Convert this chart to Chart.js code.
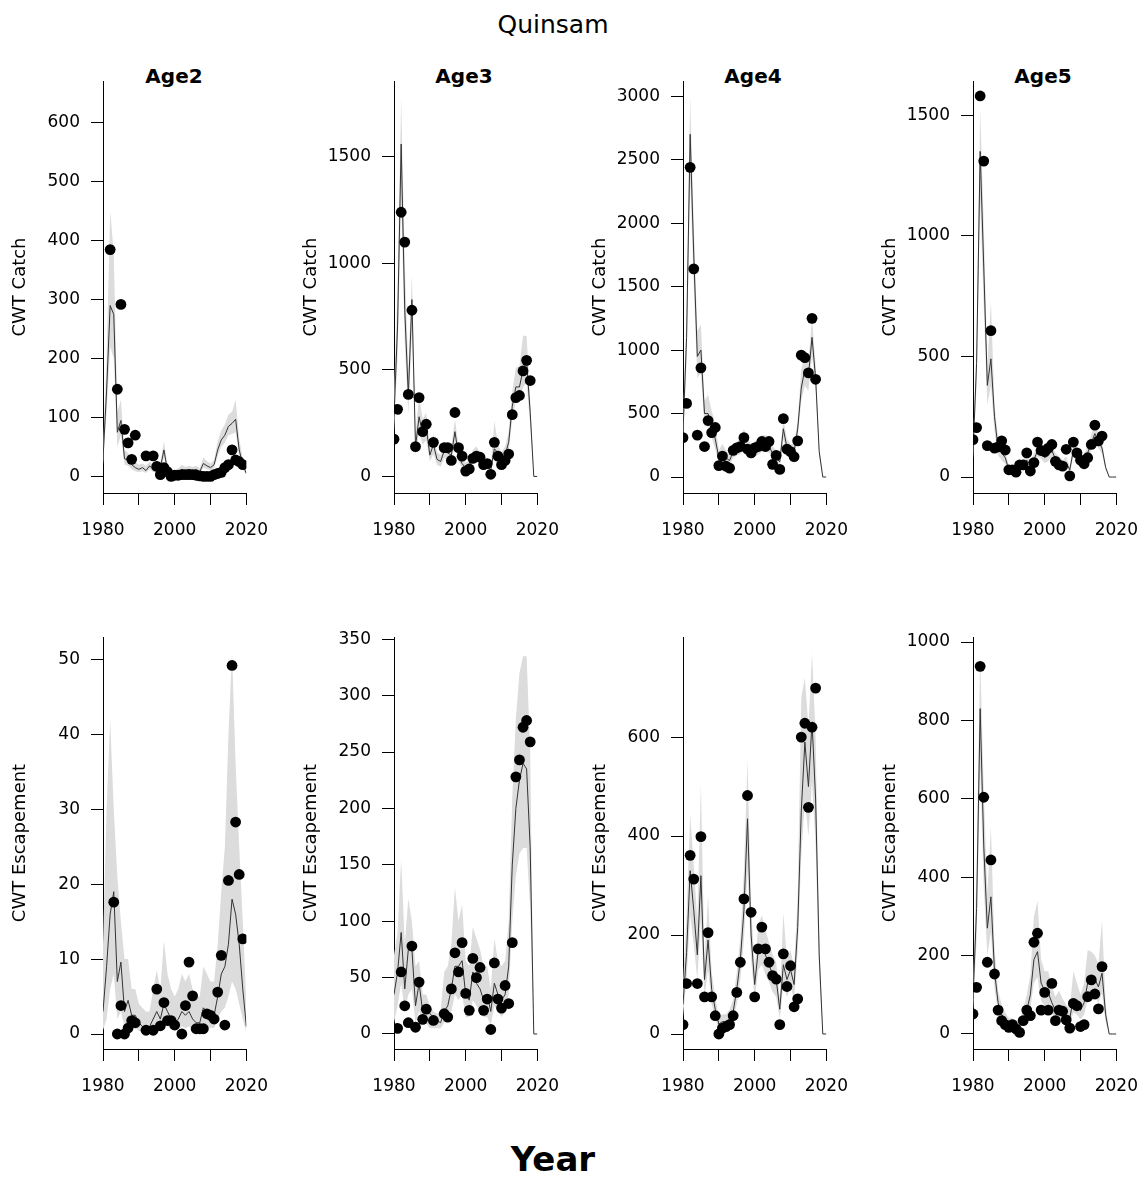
<!DOCTYPE html>
<html>
<head>
<meta charset="utf-8">
<script src="https://cdn.jsdelivr.net/npm/chart.js@4.4.1/dist/chart.umd.min.js"></script>
<style>
  body { margin: 0; background: #fff; }
  #page { position: relative; width: 1146px; height: 1179px; overflow: hidden; font-family: "DejaVu Sans", sans-serif; color: #000; }
  .lbl { position: absolute; transform: translate(-50%, -50%); white-space: nowrap; line-height: 1; }
  canvas { position: absolute; }
</style>
</head>
<body>
<div id="page">
  <div class="lbl" style="left:553px;top:24px;font-size:25px;">Quinsam</div>
  <div class="lbl" style="left:174px;top:76px;font-size:20px;font-weight:bold;">Age2</div>
  <div class="lbl" style="left:464px;top:76px;font-size:20px;font-weight:bold;">Age3</div>
  <div class="lbl" style="left:753px;top:76px;font-size:20px;font-weight:bold;">Age4</div>
  <div class="lbl" style="left:1043px;top:76px;font-size:20px;font-weight:bold;">Age5</div>
  <div class="lbl" style="left:553px;top:1159px;font-size:34px;font-weight:bold;">Year</div>
</div>
<script>
// years shared by every panel
const years = [1980, 1981, 1982, 1983, 1984, 1985, 1986, 1987, 1988, 1989,
  1990, 1991, 1992, 1993, 1994, 1995, 1996, 1997, 1998, 1999,
  2000, 2001, 2002, 2003, 2004, 2005, 2006, 2007, 2008, 2009,
  2010, 2011, 2012, 2013, 2014, 2015, 2016, 2017, 2018, 2019,
  2020];
const xTicks = [1980, 1990, 2000, 2010, 2020];
const xLabels = [1980, 2000, 2020];

// --- CWT catch ---
const age2CatchObs = [null, null, 385, null, 148, 292, 80, 57, 29, 70,
  null, null, 35, null, 35, 17, 3, 15, 8, 0,
  2, 2, 3, 3, 3, 3, 2, 1, 0, 0,
  0, 3, 5, 7, 15, 20, 45, 28, 25, 20,
  null];
const age2CatchMed = [30, 145, 290, 275, 75, 95, 30, 28, 20, 15,
  12, 15, 10, 18, 12, 20, 15, 45, 10, 5,
  5, 8, 12, 10, 12, 10, 12, 8, 22, 18,
  15, 20, 45, 62, 70, 85, 90, 97, 45, 20,
  5];
const age2CatchHi = [45, 200, 450, 380, 110, 130, 45, 40, 30, 25,
  20, 22, 18, 25, 20, 28, 22, 60, 18, 10,
  10, 14, 20, 16, 18, 16, 18, 14, 32, 26,
  22, 28, 60, 78, 88, 105, 110, 130, 65, 30,
  8];
const age2CatchLo = [20, 110, 220, 200, 50, 70, 20, 18, 12, 9,
  7, 9, 6, 12, 7, 13, 9, 32, 5, 2,
  2, 4, 7, 6, 7, 6, 7, 4, 15, 12,
  10, 14, 35, 50, 57, 70, 72, 75, 32, 12,
  2];

const age3CatchObs = [175, 315, 1240, 1100, 385, 780, 140, 370, 210, 245,
  null, 160, null, null, 135, 135, 75, 300, 135, 95,
  25, 35, 85, 95, 90, 55, 60, 10, 160, 95,
  55, 75, 105, 290, 370, 380, 495, 545, 450, null,
  null];
const age3CatchMed = [280, 710, 1560, 780, 380, 830, 140, 280, 200, 230,
  100, 150, 80, 70, 120, 110, 100, 210, 100, 60,
  40, 50, 90, 100, 80, 60, 50, 30, 130, 110,
  80, 100, 160, 330, 420, 420, 500, 540, 300, 0,
  0];
const age3CatchHi = [380, 900, 1780, 1000, 500, 950, 200, 380, 270, 300,
  140, 200, 115, 100, 160, 150, 140, 270, 140, 90,
  65, 75, 125, 140, 115, 90, 80, 50, 260, 150,
  115, 140, 210, 400, 510, 520, 660, 660, 360, 0,
  0];
const age3CatchLo = [210, 560, 1300, 620, 290, 680, 95, 210, 150, 170,
  70, 105, 55, 45, 85, 80, 70, 160, 70, 40,
  25, 32, 62, 70, 55, 40, 32, 18, 95, 78,
  55, 70, 120, 270, 350, 350, 420, 440, 240, 0,
  0];

const age4CatchObs = [310, 580, 2440, 1640, 330, 860, 240, 445, 350, 390,
  90, 165, 85, 70, 210, 230, 240, 310, 220, 190,
  230, 240, 280, 240, 280, 100, 170, 60, 460, 220,
  200, 160, 285, 960, 940, 820, 1250, 770, null, null,
  null];
const age4CatchMed = [350, 1100, 2700, 1750, 950, 1000, 500, 500, 400, 300,
  150, 200, 150, 130, 200, 220, 230, 270, 230, 200,
  210, 230, 260, 260, 250, 180, 150, 120, 380, 230,
  200, 200, 380, 700, 850, 800, 1100, 780, 200, 0,
  0];
const age4CatchHi = [450, 1300, 3000, 2000, 1150, 1200, 600, 650, 520, 420,
  210, 260, 210, 180, 260, 280, 300, 380, 300, 260,
  280, 300, 330, 330, 320, 240, 210, 170, 460, 300,
  260, 260, 450, 850, 950, 920, 1250, 880, 240, 0,
  0];
const age4CatchLo = [270, 900, 2350, 1500, 780, 820, 400, 400, 310, 220,
  100, 150, 100, 90, 150, 170, 180, 210, 170, 150,
  160, 175, 200, 200, 190, 130, 100, 80, 300, 170,
  150, 150, 310, 600, 720, 680, 960, 680, 160, 0,
  0];

const age5CatchObs = [155, 205, 1580, 1310, 130, 607, 120, 125, 150, 112,
  30, 30, 20, 50, 50, 100, 25, 60, 145, 110,
  105, 120, 135, 65, 50, 45, 115, 5, 145, 100,
  70, 55, 80, 135, 215, 150, 170, null, null, null,
  null];
const age5CatchMed = [100, 470, 1350, 870, 380, 490, 250, 120, 100, 80,
  30, 30, 35, 45, 50, 70, 50, 70, 110, 100,
  80, 90, 110, 75, 60, 50, 60, 30, 110, 90,
  60, 70, 100, 140, 180, 150, 120, 40, 0, 0,
  0];
const age5CatchHi = [130, 560, 1530, 1050, 460, 730, 300, 160, 140, 110,
  45, 45, 50, 65, 70, 95, 70, 95, 140, 130,
  110, 120, 140, 100, 85, 70, 85, 45, 140, 120,
  85, 95, 130, 175, 220, 185, 150, 50, 0, 0,
  0];
const age5CatchLo = [75, 380, 1150, 700, 300, 380, 190, 90, 70, 55,
  18, 18, 22, 30, 35, 50, 32, 50, 85, 75,
  58, 65, 85, 55, 42, 35, 42, 18, 85, 65,
  42, 50, 75, 110, 145, 120, 95, 30, 0, 0,
  0];

// --- CWT escapement ---
const age2EscObs = [null, null, null, 17.6, 0, 3.8, 0, 0.8, 1.8, 1.5,
  null, null, 0.5, null, 0.5, 6.0, 1.1, 4.2, 1.8, 1.8,
  1.2, null, 0, 3.8, 9.6, 5.1, 0.7, 0.7, 0.7, 2.7,
  2.5, 2.0, 5.6, 10.5, 1.2, 20.5, 49.2, 28.3, 21.3, 12.7,
  null];
const age2EscMed = [3, 9, 16, 19, 7, 9.6, 3, 4.5, 2.5, 2.5,
  1.5, 1, 1, 1, 2, 3, 2, 4, 3, 2,
  1.5, 2, 3, 2.5, 3, 2, 1.5, 1.5, 3.5, 3,
  2.5, 2.5, 5, 8, 9, 12, 18, 16, 12, 6,
  1];
const age2EscHi = [12, 30, 42, 30, 21, 15, 10, 10, 6, 6,
  4, 3.5, 3, 3, 6, 8.5, 6, 12.5, 8, 6,
  5, 6, 8, 7, 8, 6, 5, 5, 9, 8,
  7, 7, 12, 19, 25, 40, 51, 36, 25, 15,
  4];
const age2EscLo = [0.5, 2, 6, 8, 2, 3, 1, 1.5, 0.8, 0.8,
  0.4, 0.3, 0.3, 0.3, 0.6, 1, 0.6, 1.5, 1, 0.6,
  0.5, 0.6, 1, 0.8, 1, 0.6, 0.5, 0.5, 1.2, 1,
  0.8, 0.8, 2, 3, 3.5, 5, 7, 6, 4, 2,
  0.2];

const age3EscObs = [null, 5, 55, 25, 10, 78, 6, 46, 13, 22,
  null, 12, null, null, 18, 15, 40, 72, 55, 81,
  36, 21, 67, 50, 59, 21, 31, 4, 63, 31,
  23, 43, 27, 81, 228, 243, 272, 278, 259, null,
  null];
const age3EscMed = [35, 55, 90, 40, 75, 75, 25, 45, 20, 25,
  18, 15, 12, 10, 20, 25, 40, 60, 60, 65,
  35, 30, 55, 45, 40, 30, 35, 20, 45, 35,
  30, 35, 60, 150, 200, 225, 240, 235, 165, 0,
  0];
const age3EscHi = [70, 90, 155, 80, 120, 100, 60, 65, 35, 35,
  25, 20, 18, 20, 55, 60, 80, 130, 100, 115,
  65, 60, 95, 85, 75, 60, 60, 40, 85, 65,
  60, 65, 100, 210, 280, 320, 335, 335, 250, 0,
  0];
const age3EscLo = [10, 25, 45, 20, 35, 40, 10, 20, 8, 10,
  5, 5, 5, 5, 10, 15, 20, 35, 30, 35,
  15, 15, 30, 25, 20, 15, 15, 8, 25, 20,
  15, 20, 35, 100, 140, 160, 165, 165, 110, 0,
  0];

const age4EscObs = [19, 102, 361, 313, 102, 399, 75, 205, 75, 37,
  0, 12, 15, 19, 37, 84, 145, 273, 482, 246,
  75, 172, 216, 172, 145, 118, 111, 19, 162, 96,
  138, 55, 71, 600, 628, 458, 620, 699, null, null,
  null];
const age4EscMed = [60, 165, 330, 250, 160, 320, 110, 190, 90, 50,
  20, 25, 25, 30, 45, 90, 150, 250, 435, 200,
  100, 170, 180, 160, 140, 120, 110, 50, 140, 110,
  130, 100, 215, 450, 590, 500, 630, 475, 160, 0,
  0];
const age4EscHi = [100, 240, 445, 340, 230, 505, 150, 280, 125, 75,
  35, 40, 40, 50, 70, 125, 195, 330, 555, 260,
  135, 220, 240, 210, 185, 160, 145, 75, 245, 150,
  170, 135, 280, 680, 720, 620, 770, 600, 200, 0,
  0];
const age4EscLo = [35, 110, 240, 180, 110, 230, 75, 130, 60, 30,
  10, 15, 15, 18, 28, 60, 110, 190, 330, 150,
  70, 130, 140, 120, 105, 85, 75, 30, 100, 75,
  95, 70, 165, 360, 470, 400, 510, 380, 120, 0,
  0];

const age5EscObs = [51, 119, 938, 604, 183, 444, 153, 61, 34, 24,
  17, 24, 13, 4, 34, 61, 47, 234, 257, 61,
  106, 61, 129, 34, 61, 58, 36, 15, 78, 72,
  19, 24, 95, 138, 102, 64, 172, null, null, null,
  null];
const age5EscMed = [90, 320, 830, 480, 270, 350, 160, 80, 50, 35,
  25, 25, 20, 20, 40, 60, 100, 190, 210, 130,
  110, 105, 80, 60, 65, 55, 45, 40, 90, 80,
  60, 80, 130, 150, 140, 120, 155, 50, 0, 0,
  0];
const age5EscHi = [120, 420, 970, 620, 360, 530, 220, 110, 75, 55,
  40, 40, 35, 35, 65, 100, 150, 300, 340, 190,
  160, 160, 120, 95, 110, 90, 75, 65, 160, 130,
  100, 130, 215, 210, 200, 180, 290, 80, 0, 0,
  0];
const age5EscLo = [60, 240, 680, 370, 200, 260, 115, 55, 32, 22,
  15, 15, 12, 12, 25, 38, 65, 130, 145, 85,
  70, 68, 52, 38, 42, 35, 28, 25, 55, 50,
  37, 50, 85, 100, 95, 80, 105, 30, 0, 0,
  0];

// y tick labels per panel
const age2CatchTicks = [0, 100, 200, 300, 400, 500, 600];
const age3CatchTicks = [0, 500, 1000, 1500];
const age4CatchTicks = [0, 500, 1000, 1500, 2000, 2500, 3000];
const age5CatchTicks = [0, 500, 1000, 1500];
const age2EscTicks = [0, 10, 20, 30, 40, 50];
const age3EscTicks = [0, 50, 100, 150, 200, 250, 300, 350];
const age4EscTicks = [0, 200, 400, 600];
const age5EscTicks = [0, 200, 400, 600, 800, 1000];

const panels = [
  { obs: age2CatchObs, med: age2CatchMed, lo: age2CatchLo, hi: age2CatchHi, ticks: age2CatchTicks, yMin: -28.1, yMax: 671.2, title: 'CWT Catch' },
  { obs: age3CatchObs, med: age3CatchMed, lo: age3CatchLo, hi: age3CatchHi, ticks: age3CatchTicks, yMin: -77.8, yMax: 1856, title: 'CWT Catch' },
  { obs: age4CatchObs, med: age4CatchMed, lo: age4CatchLo, hi: age4CatchHi, ticks: age4CatchTicks, yMin: -125.9, yMax: 3120, title: 'CWT Catch' },
  { obs: age5CatchObs, med: age5CatchMed, lo: age5CatchLo, hi: age5CatchHi, ticks: age5CatchTicks, yMin: -66.2, yMax: 1642, title: 'CWT Catch' },
  { obs: age2EscObs, med: age2EscMed, lo: age2EscLo, hi: age2EscHi, ticks: age2EscTicks, yMin: -2.0, yMax: 53.0, title: 'CWT Escapement' },
  { obs: age3EscObs, med: age3EscMed, lo: age3EscLo, hi: age3EscHi, ticks: age3EscTicks, yMin: -13.3, yMax: 352, title: 'CWT Escapement' },
  { obs: age4EscObs, med: age4EscMed, lo: age4EscLo, hi: age4EscHi, ticks: age4EscTicks, yMin: -30.3, yMax: 802.3, title: 'CWT Escapement' },
  { obs: age5EscObs, med: age5EscMed, lo: age5EscLo, hi: age5EscHi, ticks: age5EscTicks, yMin: -38.3, yMax: 1012.8, title: 'CWT Escapement' }
];

// panel geometry (plot region of each panel)
const colX = [103, 394, 683, 973];
const rowY = [81, 637];
const PLOT_W = 145;
const PLOT_H = 412;
const AXIS_W = 103;   // room left of the y axis line
const PAD_TOP = 28;   // must exceed the y scale's own label padding
const PAD_RIGHT = 35;
const XAXIS_H = 60;

const FONT = '"DejaVu Sans", sans-serif';
const page = document.getElementById('page');

const toXY = (arr) => years.map((x, i) => ({ x: x, y: arr[i] }));

panels.forEach((p, idx) => {
  const col = idx % 4;
  const row = Math.floor(idx / 4);

  const canvas = document.createElement('canvas');
  const w = AXIS_W + PLOT_W + PAD_RIGHT;
  const h = PAD_TOP + PLOT_H + XAXIS_H;
  canvas.width = w;
  canvas.height = h;
  canvas.style.left = (colX[col] - AXIS_W) + 'px';
  canvas.style.top = (rowY[row] - PAD_TOP) + 'px';
  canvas.style.width = w + 'px';
  canvas.style.height = h + 'px';
  page.appendChild(canvas);

  new Chart(canvas.getContext('2d'), {
    type: 'line',
    data: {
      datasets: [
        {
          // observed
          data: toXY(p.obs),
          showLine: false,
          pointRadius: 5.4,
          pointBorderWidth: 0,
          pointBackgroundColor: '#000',
          borderColor: '#000',
          order: 0
        },
        {
          // model median
          data: toXY(p.med),
          borderColor: '#333',
          borderWidth: 1,
          pointRadius: 0,
          fill: false,
          order: 1
        },
        {
          // upper bound, filled down to the lower bound
          data: toXY(p.hi),
          borderColor: 'rgba(0,0,0,0)',
          borderWidth: 0,
          pointRadius: 0,
          fill: '+1',
          backgroundColor: '#dcdcdc',
          order: 2
        },
        {
          data: toXY(p.lo),
          borderColor: 'rgba(0,0,0,0)',
          borderWidth: 0,
          pointRadius: 0,
          fill: false,
          order: 3
        }
      ]
    },
    options: {
      responsive: false,
      animation: false,
      devicePixelRatio: 1,
      layout: { padding: { top: PAD_TOP, right: PAD_RIGHT, left: 0, bottom: 0 } },
      plugins: { legend: { display: false }, tooltip: { enabled: false } },
      scales: {
        x: {
          type: 'linear',
          min: 1980,
          max: 2020,
          afterBuildTicks: (axis) => { axis.ticks = xTicks.map(v => ({ value: v })); },
          afterFit: (scale) => { scale.height = XAXIS_H; },
          border: { display: true, color: '#000', width: 1 },
          grid: { drawOnChartArea: false, drawTicks: true, tickLength: 12, color: '#000', lineWidth: 1 },
          ticks: {
            autoSkip: false,
            maxRotation: 0,
            minRotation: 0,
            padding: 15,
            color: '#000',
            font: { family: FONT, size: 17 },
            callback: (v) => xLabels.includes(v) ? String(v) : ''
          }
        },
        y: {
          type: 'linear',
          min: p.yMin,
          max: p.yMax,
          afterBuildTicks: (axis) => { axis.ticks = p.ticks.map(v => ({ value: v })); },
          afterFit: (scale) => { scale.width = AXIS_W; },
          border: { display: true, color: '#000', width: 1 },
          grid: { drawOnChartArea: false, drawTicks: true, tickLength: 12, color: '#000', lineWidth: 1 },
          ticks: {
            autoSkip: false,
            padding: 11,
            color: '#000',
            font: { family: FONT, size: 17 },
            callback: (v) => String(v)
          },
          title: {
            display: true,
            text: p.title,
            color: '#000',
            font: { family: FONT, size: 18 },
            padding: { top: 10, bottom: 0 }
          }
        }
      }
    }
  });
});
</script>
</body>
</html>
